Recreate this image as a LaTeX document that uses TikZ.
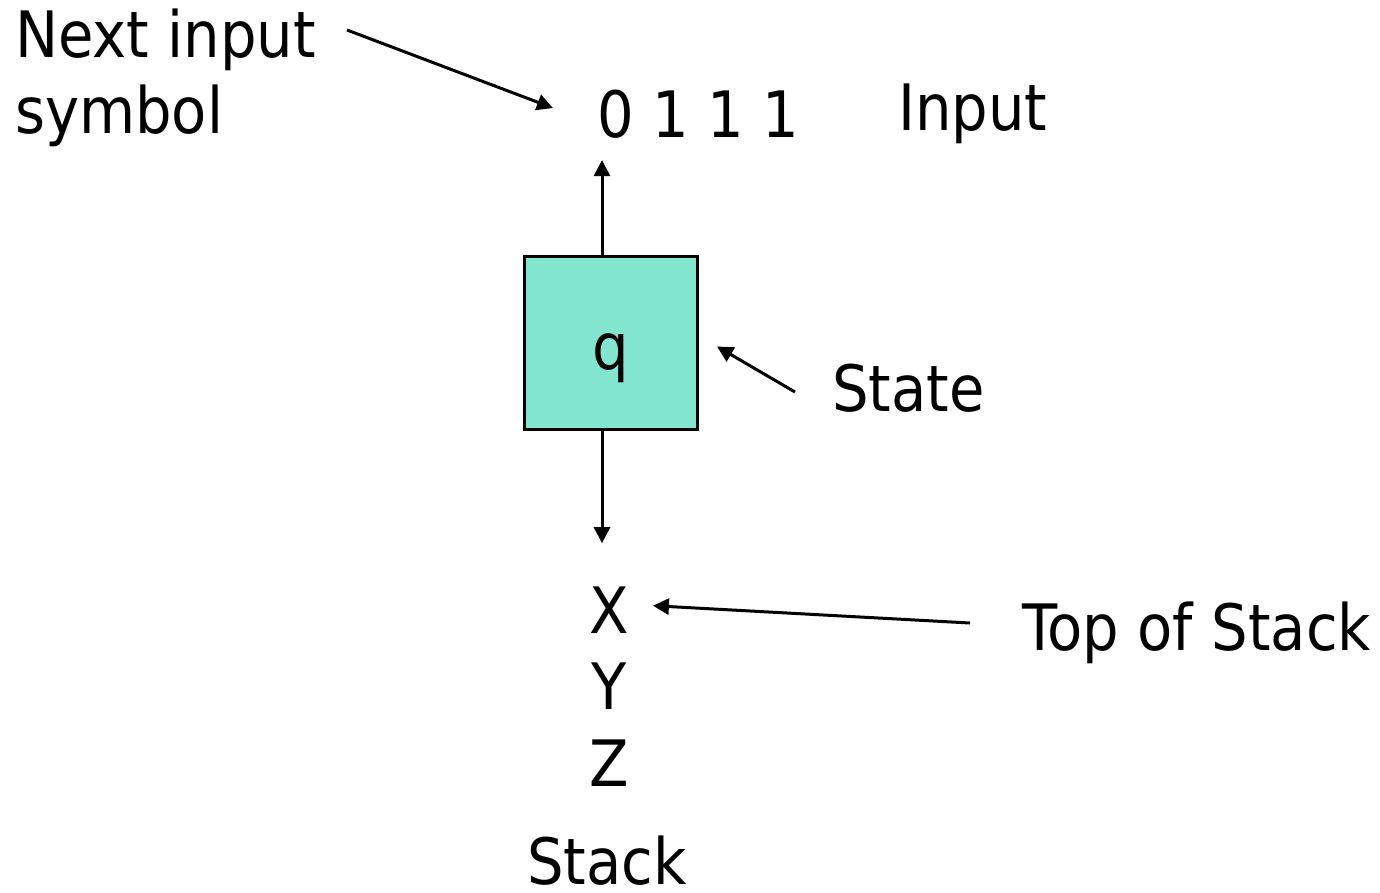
\documentclass[tikz,border=0pt]{standalone}
\usepackage{fontspec}
\setmainfont{DejaVu Sans}[FakeStretch=0.9]
\usepackage{xcolor}
\usetikzlibrary{arrows.meta,calc,positioning}
\definecolor{statefill}{RGB}{130,230,207}

\begin{document}
\begin{tikzpicture}[x=1pt,y=-1pt]
	\tikzstyle{every node}=[font=\fontsize{64}{76}\selectfont, inner sep=0pt]
	\tikzstyle{arr}=[line width=3pt, -{Triangle[length=16pt,width=16pt]}]
	\tikzstyle{statebox}=[draw, line width=3pt, fill=statefill, minimum width=173pt, minimum height=173pt, text height=66pt, text depth=13pt]
	\useasboundingbox (0,0) rectangle (1380,892);
	% labels
	\node [anchor=base west, align=left] (next) at (15,133) {Next input\\symbol};
	\node [anchor=base west] (bits) at (597,137) {0 1 1 1};
	\node [anchor=base west] (input) at (898,130) {Input};
	\node [statebox] (q) at (611,342.5) {q};
	\node [anchor=base west] (state) at (832,411) {State};
	% stack contents
	\node [anchor=base] (X) at (609,633) {X};
	\node [below=29pt of X] (Y) {Y};
	\node [below=30pt of Y] (Z) {Z};
	\node [anchor=base west] (stack) at (527,884) {Stack};
	\node [anchor=base west] (top) at (1022,650) {Top of Stack};
	% arrows
	\coordinate (nextTail) at (347,30);
	\draw [arr] (nextTail) -- ($(bits.base west)+(-44,-29)$);
	\draw [arr, shorten >=22pt] ([xshift=-9pt]q.north) -- ([xshift=-9pt]q.north |- bits.south);
	\draw [arr, shorten >=43pt] ([xshift=-9pt]q.south) -- ([xshift=-9pt]q.south |- X.north);
	\draw [arr] ($(state.base west)+(-37,-19)$) -- ($(q.east)+(18,4)$);
	\draw [arr] ($(top.base west)+(-52,-27)$) -- ($(X.east)+(24,-4)$);
\end{tikzpicture}
\end{document}
